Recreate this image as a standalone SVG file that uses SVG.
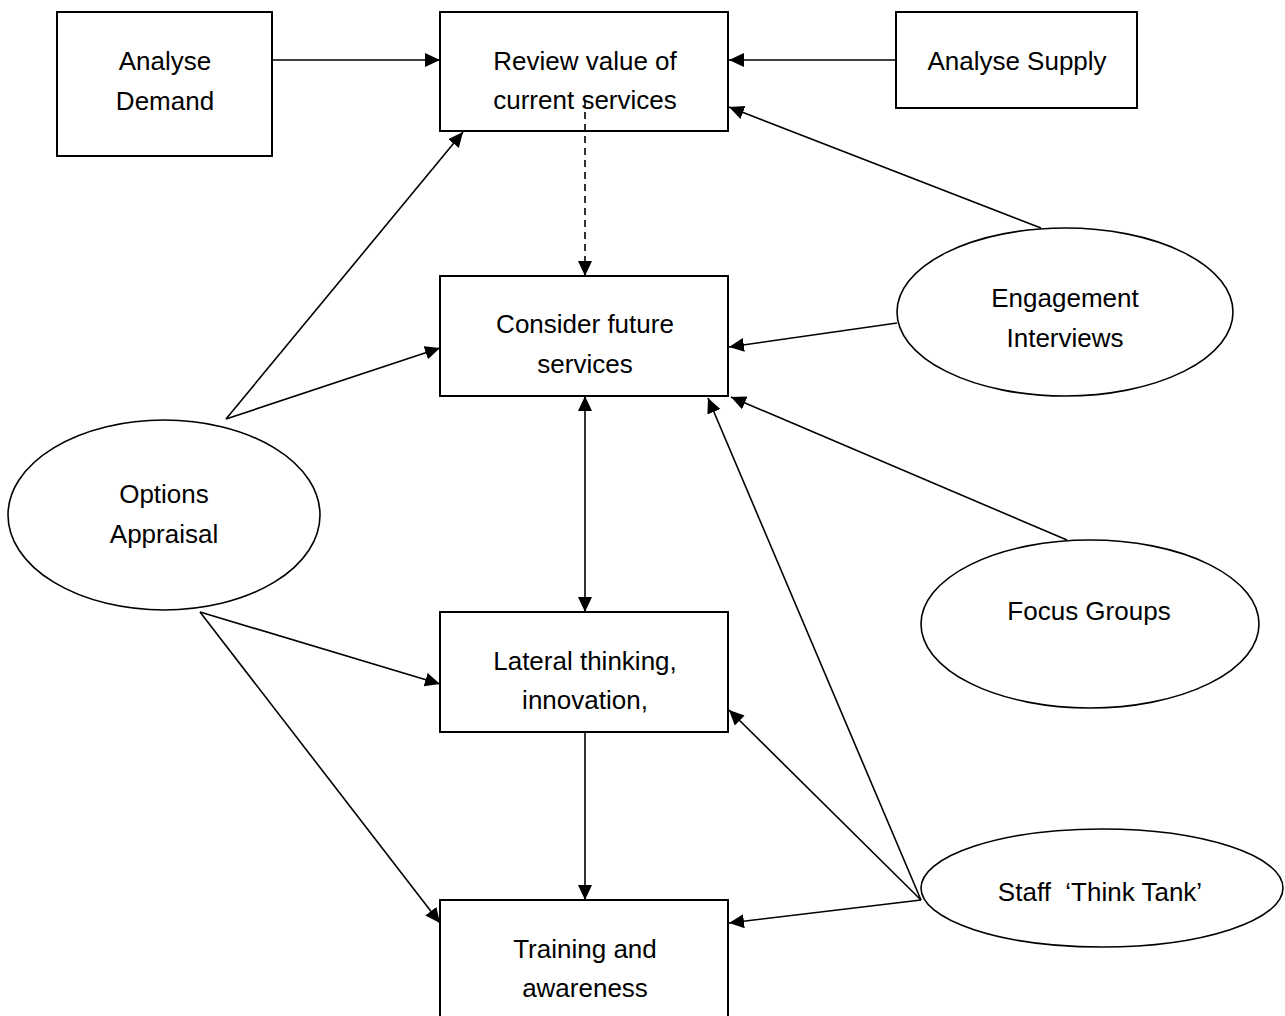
<svg xmlns="http://www.w3.org/2000/svg" width="1285" height="1016" viewBox="0 0 1285 1016">
<style>
.box{fill:#fff;stroke:#000;stroke-width:2}
.ell{fill:#fff;stroke:#000;stroke-width:1.6}
.lbl{font-family:"Liberation Sans",Arial,sans-serif;font-size:26px;fill:#000;text-anchor:middle}
.con{stroke:#000;stroke-width:1.6;fill:none;marker-end:url(#arr)}
.dash{stroke-dasharray:7 5}
</style>
<defs>
<marker id="arr" markerUnits="userSpaceOnUse" markerWidth="16" markerHeight="15" refX="15" refY="7" orient="auto">
<path d="M0,0 L15,7 L0,14 z" fill="#000"/>
</marker>
<marker id="arrs" markerUnits="userSpaceOnUse" markerWidth="16" markerHeight="15" refX="15" refY="7" orient="auto-start-reverse">
<path d="M0,0 L15,7 L0,14 z" fill="#000"/>
</marker>
</defs>
<rect width="1285" height="1016" fill="#fff"/>
<g id="analyse-demand">
<rect class="box" x="57" y="12" width="215" height="144"/>
<text class="lbl" x="165" y="70">Analyse</text>
<text class="lbl" x="165" y="110">Demand</text>
</g>
<g id="review-value">
<rect class="box" x="440" y="12" width="288" height="119"/>
<text class="lbl" x="585" y="70">Review value of</text>
<text class="lbl" x="585" y="109">current services</text>
</g>
<g id="analyse-supply">
<rect class="box" x="896" y="12" width="241" height="96"/>
<text class="lbl" x="1017" y="70">Analyse Supply</text>
</g>
<g id="consider-future">
<rect class="box" x="440" y="276" width="288" height="120"/>
<text class="lbl" x="585" y="333">Consider future</text>
<text class="lbl" x="585" y="373">services</text>
</g>
<g id="engagement-interviews">
<ellipse class="ell" cx="1065" cy="312" rx="168" ry="84"/>
<text class="lbl" x="1065" y="307">Engagement</text>
<text class="lbl" x="1065" y="347">Interviews</text>
</g>
<g id="options-appraisal">
<ellipse class="ell" cx="164" cy="515" rx="156" ry="95"/>
<text class="lbl" x="164" y="503">Options</text>
<text class="lbl" x="164" y="543">Appraisal</text>
</g>
<g id="lateral-thinking">
<rect class="box" x="440" y="612" width="288" height="120"/>
<text class="lbl" x="585" y="670">Lateral thinking,</text>
<text class="lbl" x="585" y="709">innovation,</text>
</g>
<g id="focus-groups">
<ellipse class="ell" cx="1090" cy="624" rx="169" ry="84"/>
<text class="lbl" x="1089" y="620">Focus Groups</text>
</g>
<g id="staff-think-tank">
<ellipse class="ell" cx="1102" cy="888" rx="181" ry="59"/>
<text class="lbl" x="1100" y="901" xml:space="preserve">Staff  ‘Think Tank’</text>
</g>
<g id="training-awareness">
<rect class="box" x="440" y="900" width="288" height="130"/>
<text class="lbl" x="585" y="958">Training and</text>
<text class="lbl" x="585" y="997">awareness</text>
</g>
<g id="connectors">
<line class="con" x1="272" y1="60" x2="440" y2="60"/>
<line class="con" x1="896" y1="60" x2="729" y2="60"/>
<line class="con" x1="1041" y1="228" x2="729" y2="107"/>
<line class="con" x1="897" y1="323" x2="729" y2="347"/>
<line class="con dash" x1="585" y1="100" x2="585" y2="276"/>
<line class="con" x1="226" y1="419" x2="463" y2="132"/>
<line class="con" x1="226" y1="419" x2="440" y2="348"/>
<line class="con" x1="585" y1="396" x2="585" y2="612" style="marker-start:url(#arrs);marker-end:url(#arrs)"/>
<line class="con" x1="200" y1="612" x2="440" y2="684"/>
<line class="con" x1="200" y1="612" x2="440" y2="923"/>
<line class="con" x1="585" y1="732" x2="585" y2="900"/>
<line class="con" x1="921" y1="900" x2="729" y2="923"/>
<line class="con" x1="921" y1="900" x2="729" y2="710"/>
<line class="con" x1="921" y1="900" x2="708" y2="398"/>
<line class="con" x1="1067" y1="540" x2="731" y2="397"/>
</g>
</svg>
